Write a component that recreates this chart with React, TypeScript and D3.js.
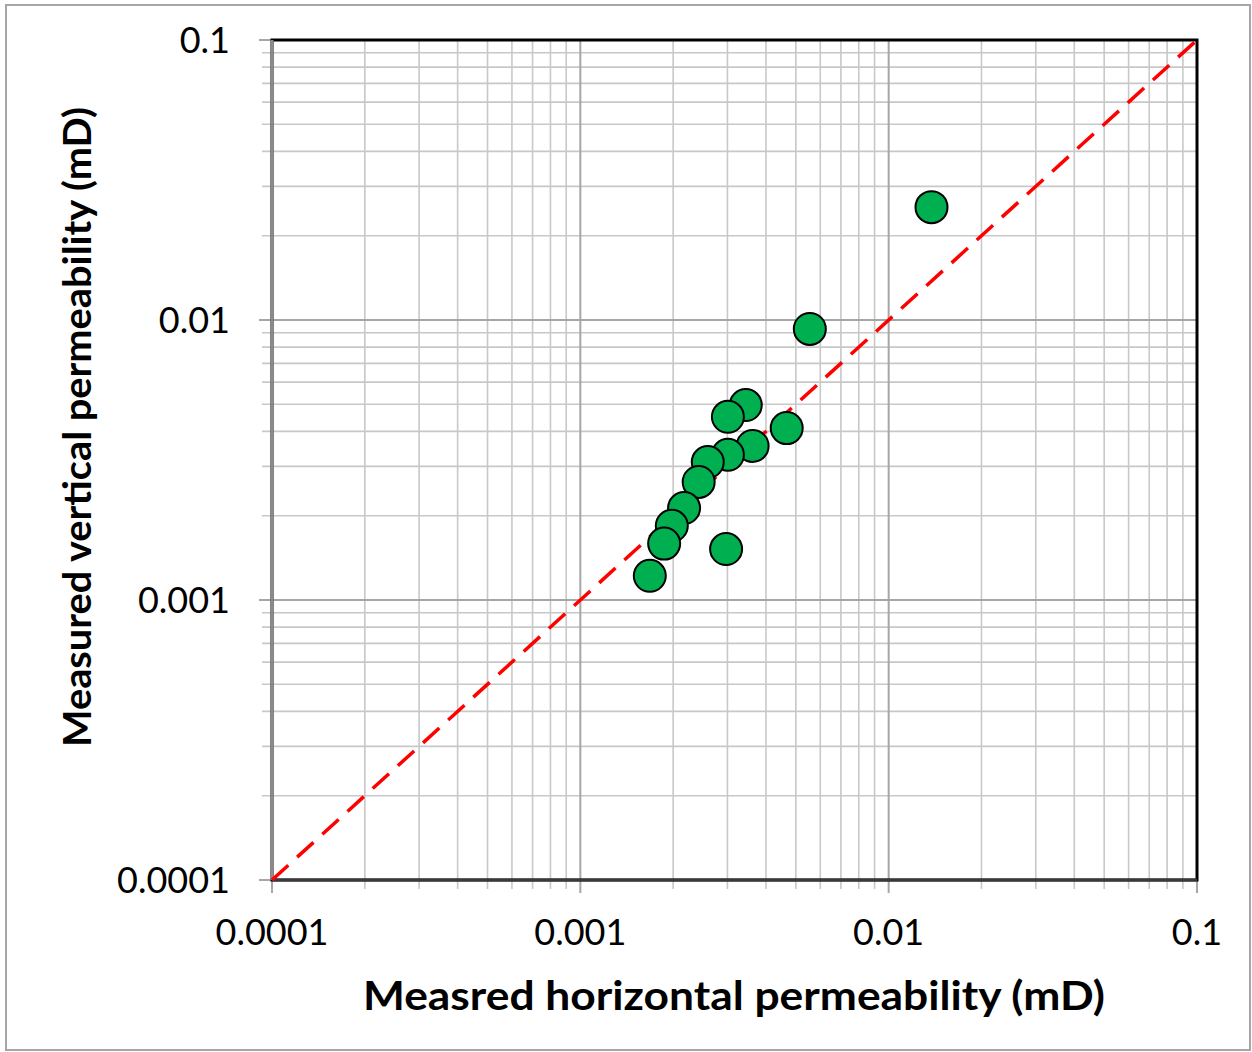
import React from "react";
import * as d3 from "d3";

// Core plug permeability pairs (mD)
const horizontalPerm: number[] = [
  0.01377, 0.00555, 0.00344, 0.00301, 0.00467, 0.00362, 0.00301,
  0.00259, 0.00242, 0.00217, 0.00198, 0.00187, 0.00168, 0.00297,
];
const verticalPerm: number[] = [
  0.0253, 0.00929, 0.00497, 0.00451, 0.00411, 0.00355, 0.0033,
  0.00311, 0.00264, 0.00213, 0.00184, 0.00159, 0.00122, 0.00152,
];
const tickValues: number[] = [0.0001, 0.001, 0.01, 0.1];
const tickLabels: string[] = ["0.0001", "0.001", "0.01", "0.1"];
const xTitle = "Measred horizontal permeability (mD)";
const yTitle = "Measured vertical permeability (mD)";

const W = 1252;
const H = 1052;
const plot = { left: 272, right: 1197, top: 40, bottom: 880 };

export default function App() {
  const x = d3.scaleLog().domain([0.0001, 0.1]).range([plot.left, plot.right]);
  const y = d3.scaleLog().domain([0.0001, 0.1]).range([plot.bottom, plot.top]);

  // minor values 2..9 within each decade
  const minor: number[] = [];
  for (let e = -4; e < -1; e++) {
    for (let m = 2; m <= 9; m++) minor.push(m * Math.pow(10, e));
  }

  const font = "Lato, 'Open Sans', sans-serif";
  const points = horizontalPerm.map((h, i) => ({ h, v: verticalPerm[i] }));

  return (
    <svg
      width={W}
      height={H}
      style={{ position: "absolute", left: 0, top: 0, background: "#fff" }}
    >
      <rect x={6} y={5} width={1244} height={1045} fill="#fff" stroke="#a6a6a6" strokeWidth={2} />

      {/* minor grid */}
      {minor.map((v, i) => (
        <g key={"mn" + i}>
          <line x1={x(v)} x2={x(v)} y1={plot.top} y2={plot.bottom + 9} stroke="#c8c8c8" strokeWidth={1.6} />
          <line x1={plot.left - 10} x2={plot.right} y1={y(v)} y2={y(v)} stroke="#c8c8c8" strokeWidth={1.6} />
        </g>
      ))}
      {/* major grid */}
      {tickValues.map((v, i) => (
        <g key={"mj" + i}>
          <line x1={x(v)} x2={x(v)} y1={plot.top} y2={plot.bottom + 13} stroke="#a6a6a6" strokeWidth={2} />
          <line x1={plot.left - 13} x2={plot.right} y1={y(v)} y2={y(v)} stroke="#a6a6a6" strokeWidth={2} />
        </g>
      ))}

      {/* plot frame */}
      <rect
        x={plot.left}
        y={plot.top}
        width={plot.right - plot.left}
        height={plot.bottom - plot.top}
        fill="none"
        stroke="#000"
        strokeWidth={3}
      />
      <line x1={plot.left} x2={plot.left} y1={plot.top} y2={plot.bottom} stroke="#8c8c8c" strokeWidth={3} />
      <line x1={plot.left} x2={plot.right} y1={plot.bottom} y2={plot.bottom} stroke="#3a3a3a" strokeWidth={3} />

      {/* 1:1 line */}
      <line
        x1={x(0.0001)}
        y1={y(0.0001)}
        x2={x(0.1)}
        y2={y(0.1)}
        stroke="#ff0000"
        strokeWidth={3.5}
        strokeDasharray="22 12"
      />

      {/* data */}
      {points.map((p, i) => (
        <circle key={i} cx={x(p.h)} cy={y(p.v)} r={16} fill="#00b050" stroke="#000" strokeWidth={2} />
      ))}

      {/* y tick labels */}
      {tickValues.map((v, i) => (
        <text
          key={"yl" + i}
          x={230}
          y={y(v)}
          dy="0.36em"
          textAnchor="end"
          fontFamily={font}
          fontSize={36}
          fill="#000"
        >
          {tickLabels[i]}
        </text>
      ))}
      {/* x tick labels */}
      {tickValues.map((v, i) => (
        <text
          key={"xl" + i}
          x={x(v)}
          y={945}
          textAnchor="middle"
          fontFamily={font}
          fontSize={36}
          fill="#000"
        >
          {tickLabels[i]}
        </text>
      ))}

      {/* axis titles */}
      <text
        x={734}
        y={1010}
        textAnchor="middle"
        fontFamily={font}
        fontWeight="bold"
        fontSize={40}
        textLength={742}
        lengthAdjust="spacingAndGlyphs"
        fill="#000"
      >
        {xTitle}
      </text>
      <text
        transform={`translate(91, 427) rotate(-90)`}
        textAnchor="middle"
        fontFamily={font}
        fontWeight="bold"
        fontSize={39}
        textLength={640}
        lengthAdjust="spacingAndGlyphs"
        fill="#000"
      >
        {yTitle}
      </text>
    </svg>
  );
}
